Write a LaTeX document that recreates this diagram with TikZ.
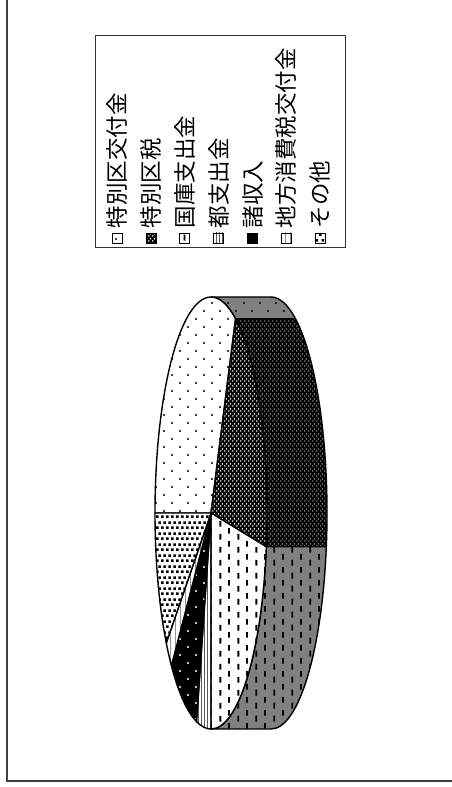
\documentclass[tikz,border=0pt]{standalone}
\usepackage{fontspec}
\usepackage{xcolor}
\usetikzlibrary{patterns}
\newfontfamily\jpfont{Noto Sans CJK JP}
\definecolor{sidegray}{RGB}{128,128,128}
\definecolor{framegray}{RGB}{64,64,64}

\pgfdeclarepatternformonly{sparsedots}{\pgfqpoint{-2pt}{-2pt}}{\pgfqpoint{18pt}{18pt}}{\pgfqpoint{16pt}{16pt}}{%
  \pgfpathcircle{\pgfqpoint{4pt}{4pt}}{1.1pt}%
  \pgfpathcircle{\pgfqpoint{12pt}{12pt}}{1.1pt}%
  \pgfusepath{fill}}
\pgfdeclarepatternformonly{checkdots}{\pgfqpoint{0pt}{0pt}}{\pgfqpoint{4pt}{5pt}}{\pgfqpoint{4pt}{5pt}}{%
  \pgfpathellipse{\pgfqpoint{1pt}{1.25pt}}{\pgfqpoint{0.85pt}{0pt}}{\pgfqpoint{0pt}{1.15pt}}%
  \pgfpathellipse{\pgfqpoint{3pt}{3.75pt}}{\pgfqpoint{0.85pt}{0pt}}{\pgfqpoint{0pt}{1.15pt}}%
  \pgfusepath{fill}}
\pgfdeclarepatternformonly{vdashes}{\pgfqpoint{0pt}{0pt}}{\pgfqpoint{18pt}{13pt}}{\pgfqpoint{18pt}{13pt}}{%
  \pgfpathrectangle{\pgfqpoint{3.6pt}{0.3pt}}{\pgfqpoint{1.9pt}{6.4pt}}%
  \pgfpathrectangle{\pgfqpoint{12.6pt}{6.8pt}}{\pgfqpoint{1.9pt}{6pt}}%
  \pgfusepath{fill}}
\pgfdeclarepatternformonly{densevlines}{\pgfqpoint{0pt}{0pt}}{\pgfqpoint{2.6pt}{1pt}}{\pgfqpoint{2.6pt}{1pt}}{%
  \pgfpathrectangle{\pgfqpoint{0pt}{0pt}}{\pgfqpoint{1pt}{1pt}}%
  \pgfusepath{fill}}
\pgfdeclarepatternformonly{sparsevlines}{\pgfqpoint{0pt}{0pt}}{\pgfqpoint{5pt}{1pt}}{\pgfqpoint{5pt}{1pt}}{%
  \pgfpathrectangle{\pgfqpoint{0pt}{0pt}}{\pgfqpoint{0.7pt}{1pt}}%
  \pgfusepath{fill}}
\pgfdeclarepatternformonly{squaredots}{\pgfqpoint{0pt}{0pt}}{\pgfqpoint{5.4pt}{10.6pt}}{\pgfqpoint{5.4pt}{10.6pt}}{%
  \pgfpathrectangle{\pgfqpoint{0pt}{0pt}}{\pgfqpoint{2.8pt}{2.6pt}}%
  \pgfpathrectangle{\pgfqpoint{2.7pt}{5.3pt}}{\pgfqpoint{2.8pt}{2.6pt}}%
  \pgfusepath{fill}}

\begin{document}
\begin{tikzpicture}[
  x=1pt, y=1pt,
  pieline/.style={draw=black, line width=1.4pt, line join=round},
  fillkofu/.style={preaction={fill=white}, pattern=sparsedots, pattern color=black},
  fillkuzei/.style={preaction={fill=black}, pattern=checkdots, pattern color=white},
  fillkokko/.style={preaction={fill=white}, pattern=vdashes, pattern color=black},
  fillto/.style={preaction={fill=white}, pattern=densevlines, pattern color=black},
  fillsho/.style={preaction={fill=black}, pattern=sparsedots, pattern color=white},
  fillchiho/.style={preaction={fill=white}, pattern=sparsevlines, pattern color=black},
  fillsonota/.style={preaction={fill=white}, pattern=squaredots, pattern color=black},
  sidekofu/.style={preaction={fill=sidegray}, pattern=sparsedots, pattern color=black},
  sidekuzei/.style={preaction={fill=black}, pattern=checkdots, pattern color=black!45},
  sidekokko/.style={preaction={fill=sidegray}, pattern=vdashes, pattern color=black},
  legsym/.style={draw=black, line width=0.7pt, minimum size=10pt, inner sep=0pt},
  legtext/.style={rotate=90, anchor=west, inner sep=0pt, font=\jpfont\fontsize{22.5}{24}\selectfont}
]
  \useasboundingbox (0,0) rectangle (451,787);
  \draw[line width=2pt, framegray] (7,800) -- (7,6) -- (460,6);

  % pie side
  \begin{scope}[shift={(211,274)}, x radius=56pt, y radius=216pt]
    \draw[pieline, sidekofu] (90:56pt and 216pt) arc[start angle=90, end angle=64] -- ++(60pt,0) arc[start angle=64, end angle=90] -- cycle;
    \draw[pieline, sidekuzei] (64:56pt and 216pt) arc[start angle=64, end angle=-9] -- ++(60pt,0) arc[start angle=-9, end angle=64] -- cycle;
    \draw[pieline, sidekokko] (-9:56pt and 216pt) arc[start angle=-9, end angle=-90] -- ++(60pt,0) arc[start angle=-90, end angle=-9] -- cycle;

    % pie face
    \draw[pieline, fillkofu] (0,0) -- (180:56pt and 216pt) arc[start angle=180, end angle=64] -- cycle;
    \draw[pieline, fillkuzei] (0,0) -- (64:56pt and 216pt) arc[start angle=64, end angle=-9] -- cycle;
    \draw[pieline, fillkokko] (0,0) -- (-9:56pt and 216pt) arc[start angle=-9, end angle=-90] -- cycle;
    \draw[pieline, fillto] (0,0) -- (270:56pt and 216pt) arc[start angle=270, end angle=255] -- cycle;
    \draw[pieline, fillsho] (0,0) -- (255:56pt and 216pt) arc[start angle=255, end angle=225] -- cycle;
    \draw[pieline, fillchiho] (0,0) -- (225:56pt and 216pt) arc[start angle=225, end angle=217] -- cycle;
    \draw[pieline, fillsonota] (0,0) -- (217:56pt and 216pt) arc[start angle=217, end angle=180] -- cycle;
  \end{scope}

  % legend
  \node[draw=black!80, line width=0.8pt, minimum width=250pt, minimum height=212pt, inner sep=0pt, anchor=north west] (legend) at (95,752) {};
  \node[legsym, fillkofu] (k1) at (117,549) {};
  \node[legsym, fillkuzei] (k2) at (151,549) {};
  \node[legsym, fillkokko] (k3) at (184.5,549) {};
  \node[legsym, fillto] (k4) at (218.5,549) {};
  \node[legsym, fillsho] (k5) at (252.5,549) {};
  \node[legsym, fillchiho] (k6) at (286,549) {};
  \node[legsym, fillsonota] (k7) at (320,549) {};
  \node[legtext] (t1) at ([yshift=4pt]k1.north) {特別区交付金};
  \node[legtext] (t2) at ([yshift=4pt]k2.north) {特別区税};
  \node[legtext] (t3) at ([yshift=4pt]k3.north) {国庫支出金};
  \node[legtext] (t4) at ([yshift=4pt]k4.north) {都支出金};
  \node[legtext] (t5) at ([yshift=4pt]k5.north) {諸収入};
  \node[legtext] (t6) at ([yshift=4pt]k6.north) {地方消費税交付金};
  \node[legtext] (t7) at ([yshift=4pt]k7.north) {その他};
\end{tikzpicture}
\end{document}
